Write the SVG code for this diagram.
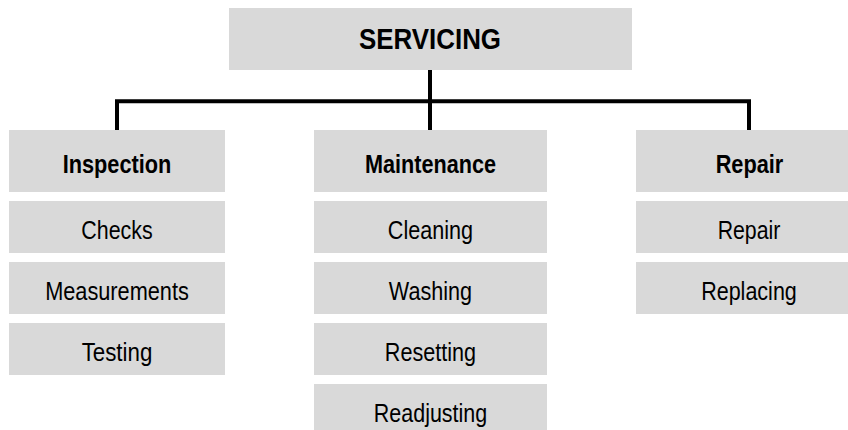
<svg xmlns="http://www.w3.org/2000/svg" width="848" height="430" viewBox="0 0 848 430">
<style>
.box{fill:#d9d9d9}
.t{font-family:"Liberation Sans",Arial,sans-serif;font-size:25px;fill:#000;text-anchor:middle}
.b{font-weight:bold}
.top{font-size:29px;font-weight:bold}
.conn{fill:none;stroke:#000;stroke-width:4}
</style>
<rect width="848" height="430" fill="#fff"/>
<g id="connectors">
<path class="conn" d="M117,130 V101.3 H749 V130"/>
<path class="conn" d="M430,70 V130"/>
</g>
<g id="servicing"><rect class="box" x="229" y="8" width="403" height="62"/><text class="t top" x="430" y="49" textLength="142" lengthAdjust="spacingAndGlyphs">SERVICING</text></g>
<g id="inspection"><rect class="box" x="9" y="130" width="216" height="62"/><text class="t b" x="117" y="173" textLength="108.7" lengthAdjust="spacingAndGlyphs">Inspection</text></g>
<g id="checks"><rect class="box" x="9" y="201" width="216" height="52"/><text class="t" x="117" y="239" textLength="71.3" lengthAdjust="spacingAndGlyphs">Checks</text></g>
<g id="measurements"><rect class="box" x="9" y="262" width="216" height="52"/><text class="t" x="117" y="300" textLength="143.7" lengthAdjust="spacingAndGlyphs">Measurements</text></g>
<g id="testing"><rect class="box" x="9" y="323" width="216" height="52"/><text class="t" x="117" y="361" textLength="70.7" lengthAdjust="spacingAndGlyphs">Testing</text></g>
<g id="maintenance"><rect class="box" x="314" y="130" width="233" height="62"/><text class="t b" x="430.5" y="173" textLength="131" lengthAdjust="spacingAndGlyphs">Maintenance</text></g>
<g id="cleaning"><rect class="box" x="314" y="201" width="233" height="52"/><text class="t" x="430.5" y="239" textLength="85.3" lengthAdjust="spacingAndGlyphs">Cleaning</text></g>
<g id="washing"><rect class="box" x="314" y="262" width="233" height="52"/><text class="t" x="430.5" y="300" textLength="83.3" lengthAdjust="spacingAndGlyphs">Washing</text></g>
<g id="resetting"><rect class="box" x="314" y="323" width="233" height="52"/><text class="t" x="430.5" y="361" textLength="91.3" lengthAdjust="spacingAndGlyphs">Resetting</text></g>
<g id="readjusting"><rect class="box" x="314" y="384" width="233" height="52"/><text class="t" x="430.5" y="422" textLength="113.3" lengthAdjust="spacingAndGlyphs">Readjusting</text></g>
<g id="repair-head"><rect class="box" x="636" y="130" width="226" height="62"/><text class="t b" x="749.5" y="173" textLength="67.7" lengthAdjust="spacingAndGlyphs">Repair</text></g>
<g id="repair"><rect class="box" x="636" y="201" width="226" height="52"/><text class="t" x="749" y="239" textLength="62.7" lengthAdjust="spacingAndGlyphs">Repair</text></g>
<g id="replacing"><rect class="box" x="636" y="262" width="226" height="52"/><text class="t" x="749" y="300" textLength="95.7" lengthAdjust="spacingAndGlyphs">Replacing</text></g>
</svg>
